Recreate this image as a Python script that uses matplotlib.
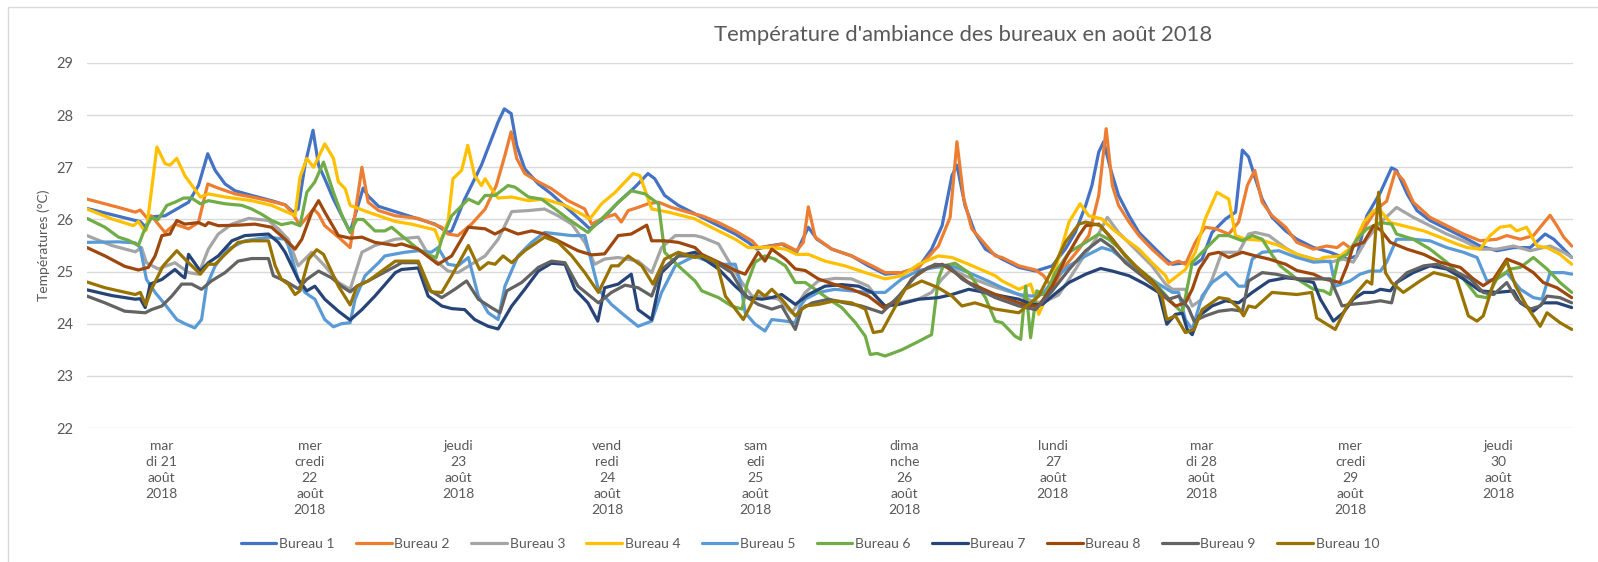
import matplotlib
matplotlib.use("Agg")
import matplotlib.pyplot as plt
from matplotlib.patches import Rectangle

plt.rcParams['font.family'] = ['Lato', 'DejaVu Sans']

# series names / colours (Excel office palette)
bureau_names = ['Bureau 1', 'Bureau 2', 'Bureau 3', 'Bureau 4', 'Bureau 5',
                'Bureau 6', 'Bureau 7', 'Bureau 8', 'Bureau 9', 'Bureau 10']
bureau_colors = ['#4472C4', '#ED7D31', '#A5A5A5', '#FFC000', '#5B9BD5',
                 '#70AD47', '#264478', '#9E480E', '#636363', '#997300']

# x axis = hours since 21/08 00:00, one label per day
day_centres = [12, 36, 60, 84, 108, 132, 156, 180, 204, 228]
day_labels = ['mar\ndi 21\naoût\n2018', 'mer\ncredi\n22\naoût\n2018',
              'jeudi\n23\naoût\n2018', 'vend\nredi\n24\naoût\n2018',
              'sam\nedi\n25\naoût\n2018', 'dima\nnche\n26\naoût\n2018',
              'lundi\n27\naoût\n2018', 'mar\ndi 28\naoût\n2018',
              'mer\ncredi\n29\naoût\n2018', 'jeudi\n30\naoût\n2018']

# (hour, °C)
b1 = [(0, 26.21), (7.8, 25.98), (8.6, 25.96), (9.4, 25.86), (10.4, 26.05), (12.6, 26.07), (14.5, 26.2),
      (16.4, 26.33), (18.0, 26.65), (19.5, 27.26), (20.7, 26.94), (22.3, 26.68), (23.9, 26.55), (26.6, 26.46),
      (29.8, 26.36), (32.0, 26.28), (33.3, 26.14), (34.1, 26.2), (35.2, 27.04), (36.5, 27.71), (37.4, 27.04),
      (38.4, 26.78), (39.8, 26.39), (41.4, 26.01), (42.5, 25.76), (43.6, 26.2), (44.6, 26.6), (45.4, 26.45),
      (47.1, 26.25), (53.5, 26.01), (56.2, 25.91), (58.3, 25.75), (58.9, 25.78), (61.0, 26.39), (63.7, 27.04),
      (66.4, 27.87), (67.4, 28.12), (68.5, 28.03), (69.4, 27.42), (70.7, 26.97), (72.9, 26.68), (75.0, 26.49),
      (77.7, 26.2), (80.4, 25.91), (81.2, 25.82), (83.1, 25.98), (85.8, 26.33), (88.5, 26.62), (90.6, 26.88),
      (91.7, 26.78), (93.3, 26.46), (95.5, 26.27), (99.3, 26.04), (102.0, 25.88), (104.7, 25.72), (106.8, 25.56),
      (108.2, 25.43), (110.1, 25.49), (112.2, 25.53), (114.6, 25.37), (116.5, 25.85), (117.9, 25.62),
      (120.3, 25.43), (123.5, 25.3), (126.2, 25.11), (128.9, 24.95), (131.6, 24.98), (134.3, 25.08),
      (136.4, 25.43), (138.1, 25.88), (139.7, 26.84), (140.5, 27.04), (141.8, 26.27), (143.4, 25.75),
      (145.1, 25.43), (147.8, 25.24), (150.5, 25.08), (153.2, 25.01), (155.9, 25.11), (158.0, 25.43),
      (159.6, 25.75), (161.3, 26.27), (162.3, 26.65), (163.4, 27.29), (164.2, 27.49), (165.3, 26.97),
      (166.6, 26.46), (168.3, 26.07), (169.9, 25.75), (172.0, 25.5), (174.2, 25.24), (175.3, 25.14),
      (177.4, 25.17), (179.0, 25.14), (180.1, 25.24), (181.7, 25.75), (183.9, 26.01), (185.5, 26.14),
      (186.6, 27.33), (187.6, 27.2), (188.7, 26.78), (189.8, 26.39), (191.4, 26.04), (193.6, 25.78),
      (195.4, 25.62), (198.1, 25.46), (200.8, 25.37), (203.5, 25.24), (205.1, 25.3), (206.7, 26.07),
      (208.9, 26.52), (210.7, 26.99), (211.5, 26.94), (213.2, 26.49), (214.8, 26.17), (216.9, 25.98),
      (219.6, 25.82), (222.3, 25.66), (225.0, 25.49), (227.7, 25.40), (230.4, 25.46), (233.1, 25.46),
      (235.5, 25.72), (236.9, 25.62), (238.5, 25.43), (239.8, 25.27)]

b2 = [(0, 26.39), (5.1, 26.23), (7.8, 26.14), (8.6, 26.18), (9.6, 26.04), (10.4, 26.07), (12.6, 25.75),
      (14.2, 25.91), (16.4, 25.82), (18.0, 25.94), (19.5, 26.68), (21.2, 26.6), (23.9, 26.49), (26.6, 26.43),
      (29.3, 26.36), (32.0, 26.28), (33.3, 26.1), (34.4, 25.88), (36.6, 26.2), (37.4, 26.1), (38.4, 25.88),
      (40.6, 25.66), (42.5, 25.46), (44.4, 27.0), (45.4, 26.33), (47.1, 26.17), (49.8, 26.07), (53.5, 26.02),
      (57.3, 25.85), (58.3, 25.72), (59.9, 25.69), (62.1, 25.91), (64.3, 26.2), (66.1, 26.65), (67.5, 27.23),
      (68.5, 27.68), (69.4, 27.17), (70.7, 26.88), (72.9, 26.72), (75.0, 26.59), (77.7, 26.36), (80.4, 26.2),
      (81.5, 25.91), (83.1, 26.01), (85.3, 26.1), (86.3, 25.95), (87.4, 26.17), (89.0, 26.23), (90.6, 26.3),
      (92.3, 26.33), (94.4, 26.23), (98.2, 26.1), (99.3, 26.07), (102.0, 25.94), (104.7, 25.78), (107.4, 25.59),
      (108.4, 25.46), (110.6, 25.49), (112.5, 25.53), (114.6, 25.4), (115.7, 25.56), (116.5, 26.24),
      (117.6, 25.66), (120.3, 25.43), (123.5, 25.3), (126.8, 25.11), (128.9, 24.98), (131.6, 24.98),
      (134.3, 25.08), (137.5, 25.49), (139.4, 26.04), (140.5, 27.49), (141.6, 26.4), (142.9, 25.82),
      (146.7, 25.3), (147.8, 25.27), (150.5, 25.11), (153.2, 25.03), (154.5, 24.92), (155.9, 24.69),
      (158.0, 25.11), (160.2, 25.43), (161.8, 25.69), (163.4, 26.46), (164.6, 27.74), (165.6, 26.65),
      (166.6, 26.27), (168.3, 25.95), (169.9, 25.69), (172.0, 25.43), (174.7, 25.14), (176.3, 25.2),
      (177.4, 25.14), (179.0, 25.56), (180.6, 25.85), (182.3, 25.82), (184.4, 25.72), (186.0, 25.95),
      (187.4, 26.65), (188.6, 26.94), (189.8, 26.33), (191.4, 26.07), (193.6, 25.85), (195.4, 25.56),
      (198.1, 25.43), (200.2, 25.49), (201.9, 25.46), (202.9, 25.55), (204.3, 25.43), (206.2, 25.82),
      (208.3, 26.2), (209.9, 26.35), (211.3, 26.92), (212.6, 26.75), (214.2, 26.33), (216.9, 26.04),
      (219.6, 25.88), (222.3, 25.72), (225.0, 25.59), (227.7, 25.62), (229.3, 25.69), (231.5, 25.62),
      (233.6, 25.69), (236.3, 26.08), (237.4, 25.88), (238.5, 25.66), (239.8, 25.49)]

b3 = [(0, 25.69), (4.0, 25.5), (7.8, 25.38), (8.8, 25.46), (9.6, 25.17), (11.5, 25.05), (14.2, 25.17),
      (16.4, 24.98), (18.0, 24.95), (19.6, 25.43), (21.2, 25.72), (23.4, 25.91), (26.1, 26.02), (29.3, 25.98),
      (30.9, 25.82), (32.5, 25.62), (34.1, 25.11), (36.3, 25.37), (38.4, 25.11), (40.6, 24.79), (42.5, 24.66),
      (44.4, 25.37), (46.5, 25.5), (49.8, 25.62), (53.5, 25.66), (55.1, 25.33), (56.7, 25.17), (58.3, 25.01),
      (59.9, 24.98), (62.1, 25.14), (64.3, 25.3), (66.4, 25.62), (68.6, 26.15), (71.3, 26.17), (73.9, 26.2),
      (76.1, 26.07), (78.3, 25.91), (80.4, 25.56), (82.0, 25.14), (83.6, 25.24), (85.8, 25.27), (89.0, 25.2),
      (91.2, 24.98), (92.8, 25.46), (95.0, 25.69), (98.2, 25.69), (99.3, 25.66), (102.0, 25.53), (104.1, 25.11),
      (105.8, 24.79), (107.4, 24.53), (109.5, 24.53), (111.7, 24.47), (113.8, 24.21), (114.6, 24.34),
      (116.0, 24.6), (118.1, 24.82), (120.8, 24.87), (123.5, 24.86), (126.2, 24.72), (127.8, 24.47),
      (128.9, 24.31), (131.1, 24.4), (134.3, 24.47), (136.4, 24.6), (138.1, 24.86), (139.7, 25.05),
      (141.8, 24.92), (146.7, 24.7), (150.5, 24.56), (153.2, 24.4), (154.8, 24.43), (156.9, 24.55),
      (158.6, 24.85), (160.7, 25.24), (162.9, 25.62), (164.8, 26.04), (166.6, 25.75), (169.3, 25.43),
      (172.0, 25.11), (174.2, 24.76), (175.3, 24.66), (177.4, 24.66), (178.5, 24.34), (180.1, 24.47),
      (181.7, 24.85), (183.3, 25.37), (186.0, 25.37), (187.6, 25.72), (188.7, 25.75), (190.9, 25.69),
      (193.6, 25.45), (195.4, 25.33), (198.1, 25.24), (200.8, 25.18), (202.9, 25.24), (204.5, 25.18),
      (206.7, 25.62), (208.9, 25.94), (211.5, 26.23), (214.2, 26.04), (216.9, 25.88), (219.6, 25.72),
      (222.3, 25.59), (225.0, 25.43), (227.7, 25.43), (230.4, 25.49), (233.1, 25.4), (236.3, 25.49),
      (238.5, 25.37), (239.8, 25.27)]

b4 = [(0, 26.2), (4.0, 26.01), (7.5, 25.88), (8.3, 25.96), (9.3, 25.78), (9.6, 25.8), (11.3, 27.39),
      (12.6, 27.07), (13.4, 27.04), (14.5, 27.17), (15.8, 26.84), (18.3, 26.43), (19.6, 26.49), (22.3, 26.43),
      (26.6, 26.36), (29.8, 26.27), (33.1, 26.1), (33.6, 26.07), (34.4, 26.81), (35.5, 27.17), (36.6, 27.0),
      (38.4, 27.45), (39.8, 27.17), (40.6, 26.72), (41.7, 26.59), (42.5, 26.27), (45.4, 26.14), (49.8, 25.96),
      (52.4, 25.91), (56.2, 25.8), (57.0, 25.56), (58.3, 25.95), (59.1, 26.78), (60.5, 26.94), (61.5, 27.42),
      (62.6, 26.84), (63.7, 26.65), (64.3, 26.78), (65.3, 26.59), (66.4, 26.41), (68.6, 26.43), (71.3, 26.36),
      (73.9, 26.39), (77.2, 26.27), (79.9, 26.1), (81.2, 26.01), (83.1, 26.3), (85.3, 26.52), (86.9, 26.72),
      (88.2, 26.88), (89.3, 26.84), (91.2, 26.2), (93.9, 26.14), (98.2, 26.01), (99.3, 25.94), (102.0, 25.78),
      (104.7, 25.62), (106.8, 25.46), (110.6, 25.46), (112.8, 25.43), (114.6, 25.33), (116.5, 25.33),
      (119.2, 25.2), (122.4, 25.11), (125.7, 24.98), (128.9, 24.86), (131.6, 24.92), (134.3, 25.14),
      (137.5, 25.3), (139.7, 25.27), (142.4, 25.14), (146.7, 24.92), (147.8, 24.82), (150.5, 24.66),
      (152.4, 24.76), (153.2, 24.47), (153.7, 24.18), (154.8, 24.47), (156.4, 25.04), (158.6, 25.95),
      (160.4, 26.3), (161.8, 26.07), (163.9, 26.01), (165.6, 25.82), (167.7, 25.62), (169.9, 25.43),
      (172.0, 25.17), (174.2, 24.92), (174.7, 24.79), (177.4, 25.04), (179.0, 25.37), (180.6, 26.01),
      (182.5, 26.52), (184.4, 26.39), (185.5, 25.69), (187.1, 25.62), (189.8, 25.6), (192.5, 25.5),
      (195.4, 25.33), (198.1, 25.24), (198.6, 25.2), (199.7, 25.27), (202.4, 25.3), (204.5, 25.49),
      (206.2, 25.94), (207.8, 26.17), (208.9, 26.17), (210.5, 25.94), (213.2, 25.86), (215.9, 25.78),
      (218.5, 25.66), (221.2, 25.53), (222.9, 25.46), (225.0, 25.43), (226.6, 25.69), (228.2, 25.85),
      (229.9, 25.88), (230.9, 25.78), (232.5, 25.85), (234.2, 25.49), (235.8, 25.46), (237.9, 25.33),
      (239.8, 25.14)]

b5 = [(0, 25.56), (5.1, 25.57), (7.8, 25.55), (8.6, 25.46), (9.6, 24.85), (11.0, 24.6), (12.6, 24.37),
      (14.5, 24.08), (15.8, 24.0), (17.4, 23.92), (18.5, 24.08), (19.3, 24.72), (20.7, 25.11), (22.8, 25.43),
      (25.5, 25.59), (29.3, 25.66), (32.0, 25.62), (32.5, 25.5), (34.1, 24.85), (35.2, 24.6), (36.8, 24.47),
      (38.4, 24.08), (39.8, 23.94), (41.1, 24.0), (42.5, 24.02), (43.3, 24.47), (44.9, 24.92), (47.1, 25.17),
      (48.1, 25.3), (51.3, 25.37), (53.5, 25.4), (55.6, 25.37), (56.7, 25.46), (58.3, 25.14), (59.9, 25.11),
      (61.6, 25.27), (63.2, 24.53), (64.8, 24.21), (66.4, 24.08), (67.5, 24.72), (69.6, 25.3), (71.8, 25.56),
      (73.9, 25.75), (76.1, 25.72), (78.3, 25.69), (80.4, 25.69), (82.6, 24.66), (84.7, 24.37), (86.9, 24.15),
      (89.0, 23.95), (91.2, 24.05), (92.8, 24.6), (95.0, 25.11), (98.2, 25.3), (99.3, 25.24), (102.0, 25.14),
      (104.7, 25.14), (105.5, 24.8), (106.3, 24.21), (107.9, 23.99), (109.5, 23.86), (110.6, 24.08),
      (112.8, 24.05), (114.4, 24.02), (115.2, 24.34), (116.0, 24.47), (118.1, 24.6), (120.8, 24.66),
      (123.5, 24.63), (126.2, 24.6), (128.9, 24.6), (131.6, 24.86), (134.3, 25.02), (137.0, 25.08),
      (139.7, 25.11), (142.4, 24.98), (145.5, 24.82), (147.8, 24.69), (150.5, 24.56), (152.6, 24.53),
      (154.3, 24.56), (155.9, 24.82), (158.6, 25.11), (161.3, 25.3), (163.9, 25.46), (165.6, 25.4),
      (167.7, 25.2), (170.4, 24.98), (173.1, 24.76), (175.3, 24.6), (176.3, 24.6), (177.4, 24.08),
      (178.5, 23.89), (180.1, 24.53), (181.7, 24.79), (183.9, 24.98), (186.0, 24.72), (187.1, 24.72),
      (188.2, 25.24), (189.8, 25.37), (192.5, 25.4), (195.4, 25.27), (198.1, 25.18), (200.8, 25.2),
      (201.6, 24.72), (202.4, 24.75), (204.0, 24.82), (205.6, 24.95), (207.2, 25.01), (208.9, 25.01),
      (209.9, 25.18), (211.5, 25.62), (214.2, 25.62), (216.9, 25.59), (219.6, 25.46), (222.3, 25.37),
      (224.5, 25.27), (226.1, 24.82), (227.7, 24.86), (229.3, 24.98), (231.5, 24.66), (233.6, 24.5),
      (235.0, 24.47), (236.3, 24.98), (238.5, 24.98), (239.8, 24.95)]

b6 = [(0, 26.02), (2.9, 25.85), (5.1, 25.66), (6.7, 25.6), (8.3, 25.5), (9.1, 25.75), (10.4, 26.03),
      (11.5, 26.0), (12.9, 26.27), (14.2, 26.33), (15.6, 26.41), (16.9, 26.41), (18.3, 26.3), (19.6, 26.36),
      (22.3, 26.3), (25.0, 26.27), (26.6, 26.2), (28.2, 26.1), (29.8, 25.98), (31.4, 25.9), (33.1, 25.94),
      (34.4, 25.88), (35.5, 26.52), (36.8, 26.72), (38.2, 27.1), (39.8, 26.52), (41.1, 26.1), (42.5, 25.75),
      (43.6, 26.0), (44.6, 26.0), (46.5, 25.78), (48.1, 25.78), (49.2, 25.85), (50.8, 25.69), (53.5, 25.43),
      (55.1, 25.32), (56.4, 25.27), (57.3, 25.62), (58.9, 26.07), (61.6, 26.39), (63.2, 26.3), (64.3, 26.46),
      (65.9, 26.46), (68.0, 26.65), (69.1, 26.62), (71.3, 26.43), (73.4, 26.39), (75.6, 26.2), (77.7, 26.01),
      (80.9, 25.75), (83.1, 26.01), (85.3, 26.27), (87.9, 26.55), (90.1, 26.49), (92.3, 26.3), (93.3, 25.37),
      (95.5, 25.11), (98.2, 24.82), (99.3, 24.63), (102.0, 24.5), (104.1, 24.34), (105.8, 24.28),
      (106.6, 24.76), (107.9, 25.18), (109.5, 25.3), (111.1, 25.24), (112.8, 25.11), (114.4, 24.79),
      (116.0, 24.79), (117.6, 24.66), (119.8, 24.47), (121.9, 24.31), (124.1, 24.02), (125.7, 23.76),
      (126.5, 23.41), (127.6, 23.43), (128.9, 23.38), (131.6, 23.5), (134.3, 23.66), (136.4, 23.79),
      (137.5, 24.86), (138.3, 25.11), (140.2, 25.16), (142.4, 24.98), (145.1, 24.5), (146.7, 24.05),
      (147.8, 24.02), (149.9, 23.76), (150.8, 23.7), (151.6, 24.72), (152.4, 23.73), (153.4, 24.63),
      (154.8, 24.55), (156.4, 24.98), (158.6, 25.37), (161.3, 25.56), (163.4, 25.72), (165.0, 25.62),
      (166.6, 25.46), (169.3, 25.11), (172.0, 24.85), (173.6, 24.63), (175.3, 24.4), (176.9, 24.21),
      (178.5, 25.17), (180.1, 25.37), (182.8, 25.69), (184.4, 25.69), (186.6, 25.59), (188.2, 25.69),
      (189.8, 25.62), (191.5, 25.3), (192.7, 25.11), (195.4, 24.86), (198.1, 24.66), (199.7, 24.63),
      (200.8, 24.56), (202.1, 25.24), (203.5, 25.33), (205.1, 25.62), (206.7, 25.82), (208.9, 25.94),
      (210.7, 25.91), (211.5, 25.72), (214.2, 25.62), (216.9, 25.43), (219.6, 25.18), (222.3, 24.86),
      (224.5, 24.53), (226.1, 24.5), (227.7, 24.86), (229.9, 25.05), (231.5, 25.08), (233.6, 25.27),
      (235.8, 25.05), (237.9, 24.79), (239.8, 24.6)]

b7 = [(0, 24.65), (4.0, 24.54), (7.8, 24.47), (8.6, 24.48), (9.4, 24.31), (10.2, 24.76), (12.1, 24.85),
      (14.2, 25.04), (15.3, 24.92), (15.8, 24.88), (16.4, 25.33), (18.3, 25.01), (19.6, 25.17), (21.2, 25.3),
      (23.4, 25.59), (25.5, 25.69), (29.3, 25.72), (30.9, 25.56), (32.0, 25.37), (34.1, 24.85), (35.5, 24.63),
      (36.8, 24.72), (38.4, 24.47), (40.6, 24.24), (42.5, 24.07), (44.4, 24.27), (46.5, 24.53), (49.8, 24.98),
      (50.8, 25.04), (53.5, 25.07), (55.1, 24.53), (57.3, 24.34), (58.9, 24.29), (61.0, 24.27), (62.6, 24.08),
      (64.8, 23.95), (66.4, 23.9), (68.6, 24.34), (70.7, 24.66), (72.9, 25.01), (75.0, 25.16), (77.2, 25.14),
      (78.8, 24.66), (80.9, 24.4), (82.5, 24.05), (83.6, 24.69), (85.8, 24.76), (87.9, 24.95), (89.0, 24.27),
      (91.2, 24.08), (92.8, 24.98), (95.5, 25.3), (98.2, 25.37), (99.3, 25.27), (102.0, 25.05), (104.7, 24.72),
      (106.8, 24.5), (109.0, 24.47), (110.6, 24.5), (112.2, 24.56), (114.4, 24.37), (116.5, 24.56),
      (119.2, 24.72), (121.9, 24.75), (124.6, 24.72), (126.8, 24.6), (128.9, 24.34), (131.1, 24.37),
      (134.3, 24.47), (137.5, 24.5), (139.7, 24.56), (142.4, 24.66), (145.1, 24.6), (147.8, 24.53),
      (150.5, 24.47), (152.6, 24.37), (154.3, 24.37), (155.9, 24.53), (158.6, 24.79), (161.3, 24.95),
      (163.7, 25.06), (165.6, 25.01), (168.3, 24.92), (170.9, 24.76), (173.1, 24.6), (174.4, 23.99),
      (175.8, 24.18), (176.9, 24.2), (177.7, 23.89), (178.5, 23.79), (179.6, 24.15), (181.7, 24.34),
      (183.9, 24.44), (186.0, 24.4), (188.2, 24.6), (190.9, 24.82), (193.6, 24.88), (195.4, 24.86),
      (198.1, 24.79), (199.2, 24.47), (201.3, 24.05), (202.9, 24.21), (204.5, 24.47), (206.2, 24.6),
      (207.8, 24.6), (208.9, 24.66), (210.5, 24.63), (211.5, 24.79), (214.2, 24.98), (216.9, 25.11),
      (219.6, 25.05), (222.3, 24.86), (225.0, 24.63), (227.7, 24.6), (230.4, 24.63), (231.5, 24.4),
      (233.6, 24.24), (235.2, 24.4), (237.4, 24.4), (239.8, 24.31)]

b8 = [(0, 25.46), (2.9, 25.3), (6.1, 25.1), (8.3, 25.03), (9.9, 25.08), (11.0, 25.3), (12.1, 25.69),
      (13.4, 25.72), (14.5, 25.98), (15.8, 25.91), (18.0, 25.94), (19.1, 25.88), (19.6, 25.94), (21.2, 25.88),
      (24.4, 25.89), (27.1, 25.91), (29.8, 25.85), (32.0, 25.62), (33.6, 25.43), (34.7, 25.62), (36.3, 26.14),
      (37.4, 26.36), (38.4, 26.14), (40.6, 25.69), (42.5, 25.64), (44.4, 25.66), (46.5, 25.56), (49.8, 25.5),
      (50.8, 25.53), (53.5, 25.43), (56.7, 25.14), (58.9, 25.3), (61.6, 25.85), (64.3, 25.82), (65.9, 25.72),
      (67.5, 25.82), (69.6, 25.72), (71.8, 25.78), (73.9, 25.72), (76.6, 25.56), (79.3, 25.4), (81.5, 25.32),
      (83.6, 25.34), (85.8, 25.69), (87.9, 25.72), (90.4, 25.89), (91.2, 25.59), (93.3, 25.59), (95.5, 25.56),
      (98.2, 25.46), (99.3, 25.33), (102.0, 25.18), (104.7, 25.02), (106.3, 24.95), (108.4, 25.37),
      (109.5, 25.2), (110.6, 25.43), (112.8, 25.24), (114.4, 25.05), (116.0, 25.02), (118.1, 24.86),
      (120.8, 24.75), (123.5, 24.66), (126.2, 24.53), (128.6, 24.31), (131.1, 24.47), (133.2, 24.86),
      (135.9, 25.08), (138.1, 25.14), (140.2, 24.98), (142.4, 24.79), (146.7, 24.56), (150.5, 24.4),
      (152.1, 24.34), (153.7, 24.34), (155.9, 24.72), (158.0, 25.24), (160.2, 25.69), (161.3, 25.88),
      (163.4, 25.91), (165.6, 25.62), (167.7, 25.3), (169.9, 25.04), (172.0, 24.82), (174.2, 24.5),
      (175.8, 24.34), (177.4, 24.4), (178.5, 24.66), (179.6, 25.04), (181.2, 25.33), (182.8, 25.37),
      (184.4, 25.27), (186.6, 25.37), (188.7, 25.3), (190.9, 25.24), (193.6, 25.14), (195.4, 25.02),
      (198.1, 24.95), (199.7, 24.86), (202.4, 24.79), (203.5, 25.11), (204.5, 25.49), (206.2, 25.56),
      (207.8, 25.88), (208.9, 25.8), (210.5, 25.56), (213.2, 25.43), (215.9, 25.33), (218.5, 25.18),
      (221.8, 25.08), (223.9, 24.86), (225.5, 24.73), (227.2, 24.86), (229.3, 25.24), (231.5, 25.14),
      (233.6, 24.98), (235.2, 24.79), (237.4, 24.69), (239.8, 24.5)]

b9 = [(0, 24.53), (2.9, 24.4), (6.1, 24.24), (9.4, 24.21), (10.4, 24.27), (12.1, 24.34), (13.7, 24.53),
      (15.3, 24.76), (16.9, 24.76), (18.5, 24.66), (20.1, 24.82), (22.3, 24.98), (24.4, 25.2), (26.6, 25.25),
      (29.3, 25.25), (30.1, 24.92), (32.0, 24.82), (34.1, 24.67), (35.5, 24.85), (37.4, 25.01), (39.5, 24.88),
      (41.1, 24.72), (42.5, 24.61), (43.6, 24.72), (45.4, 24.82), (49.8, 25.1), (50.8, 25.17), (53.5, 25.17),
      (55.1, 24.66), (57.3, 24.5), (59.4, 24.66), (61.3, 24.82), (63.2, 24.47), (65.3, 24.31), (66.7, 24.21),
      (67.8, 24.63), (70.2, 24.79), (72.9, 25.08), (75.0, 25.2), (77.2, 25.17), (79.3, 24.72), (82.6, 24.4),
      (84.7, 24.6), (86.9, 24.74), (89.0, 24.69), (91.2, 24.53), (92.8, 25.04), (95.5, 25.3), (98.2, 25.3),
      (99.3, 25.3), (102.0, 25.14), (104.1, 24.98), (106.3, 24.53), (108.4, 24.37), (110.6, 24.28),
      (112.2, 24.34), (114.4, 23.89), (115.4, 24.28), (117.1, 24.4), (119.8, 24.47), (122.4, 24.4),
      (125.1, 24.34), (128.4, 24.21), (131.1, 24.53), (134.3, 24.98), (137.0, 25.14), (139.1, 25.11),
      (141.3, 24.86), (144.0, 24.66), (146.7, 24.5), (150.5, 24.34), (153.2, 24.27), (155.9, 24.63),
      (158.6, 25.04), (161.3, 25.4), (163.7, 25.62), (165.6, 25.46), (167.7, 25.17), (170.4, 24.92),
      (173.1, 24.66), (174.7, 24.47), (176.3, 24.53), (177.9, 24.3), (178.8, 24.05), (180.6, 24.15),
      (182.8, 24.24), (184.9, 24.27), (186.6, 24.24), (187.6, 24.82), (189.8, 24.98), (192.0, 24.95),
      (195.4, 24.86), (198.1, 24.86), (200.8, 24.86), (202.7, 24.34), (204.0, 24.37), (206.7, 24.4),
      (208.9, 24.44), (210.7, 24.4), (211.5, 24.79), (213.2, 24.98), (215.9, 25.11), (218.0, 25.14),
      (220.7, 25.02), (223.4, 24.86), (225.5, 24.6), (227.2, 24.56), (229.3, 24.79), (230.9, 24.47),
      (233.1, 24.28), (234.7, 24.34), (235.8, 24.53), (237.9, 24.5), (239.8, 24.4)]

b10 = [(0, 24.8), (2.9, 24.69), (5.1, 24.63), (7.8, 24.56), (8.6, 24.6), (9.5, 24.36), (10.4, 24.66),
       (12.3, 25.11), (14.5, 25.4), (15.8, 25.24), (18.3, 24.95), (19.6, 25.14), (20.7, 25.14), (22.3, 25.33),
       (24.4, 25.56), (26.6, 25.59), (29.3, 25.59), (30.4, 25.11), (31.4, 24.85), (32.5, 24.76), (33.6, 24.56),
       (34.4, 24.63), (35.8, 25.24), (37.1, 25.42), (38.2, 25.33), (40.6, 24.72), (42.5, 24.36), (43.6, 24.72),
       (45.4, 24.82), (49.8, 25.2), (53.5, 25.2), (55.6, 24.61), (57.3, 24.6), (58.9, 24.92), (61.6, 25.5),
       (63.4, 25.04), (64.8, 25.17), (65.9, 25.14), (67.2, 25.3), (68.6, 25.17), (70.7, 25.4), (73.9, 25.66),
       (76.1, 25.56), (78.3, 25.3), (80.4, 24.98), (82.6, 24.6), (84.7, 25.11), (85.8, 25.11), (87.4, 25.3),
       (89.6, 25.11), (91.4, 24.76), (93.3, 25.24), (95.5, 25.37), (98.2, 25.27), (99.3, 25.3), (101.7, 25.18),
       (103.1, 24.53), (104.7, 24.28), (106.0, 24.08), (107.4, 24.4), (108.4, 24.63), (109.5, 24.53),
       (110.6, 24.66), (112.2, 24.47), (114.4, 24.15), (116.0, 24.34), (118.1, 24.37), (120.8, 24.44),
       (123.5, 24.4), (125.7, 24.28), (127.0, 23.83), (128.4, 23.86), (130.0, 24.21), (132.1, 24.66),
       (134.8, 24.82), (137.5, 24.69), (139.7, 24.53), (141.3, 24.34), (143.4, 24.4), (146.7, 24.28),
       (150.5, 24.21), (152.1, 24.37), (153.7, 24.53), (155.9, 25.04), (158.0, 25.56), (160.2, 25.91),
       (161.3, 25.95), (163.7, 25.88), (165.6, 25.62), (167.7, 25.3), (169.9, 25.04), (172.0, 24.79),
       (173.6, 24.53), (174.4, 24.08), (175.8, 24.15), (177.4, 23.83), (178.8, 23.89), (180.1, 24.27),
       (182.8, 24.5), (184.4, 24.47), (186.0, 24.3), (186.8, 24.15), (187.6, 24.34), (188.7, 24.31),
       (191.4, 24.6), (195.4, 24.56), (197.8, 24.6), (198.6, 24.11), (201.6, 23.89), (203.5, 24.34),
       (205.1, 24.6), (206.7, 24.82), (207.5, 24.76), (208.6, 26.52), (209.7, 24.98), (210.7, 24.79),
       (212.6, 24.6), (215.3, 24.82), (217.5, 24.98), (219.6, 24.92), (221.2, 24.86), (223.1, 24.15),
       (224.5, 24.05), (225.5, 24.15), (227.2, 24.79), (229.3, 25.2), (230.7, 24.73), (232.5, 24.34),
       (234.7, 23.95), (235.8, 24.21), (237.9, 24.02), (239.8, 23.89)]

series = [b1, b2, b3, b4, b5, b6, b7, b8, b9, b10]

W, H = 1598, 562
fig = plt.figure(figsize=(W / 100, H / 100), dpi=100)
ax = fig.add_axes([87 / W, 1 - 428 / H, (1573 - 87) / W, (428 - 63) / H])

for name, col, pts in zip(bureau_names, bureau_colors, series):
    hrs = [p[0] for p in pts]
    temps = [p[1] for p in pts]
    ax.plot(hrs, temps, color=col, lw=2.3, label=name,
            solid_joinstyle='round', solid_capstyle='round')

ax.set_xlim(0, 240)
ax.set_ylim(22, 29)
ax.set_yticks(range(22, 30))
ax.set_xticks(day_centres)
ax.set_xticklabels(day_labels, fontsize=10, color='#595959', linespacing=1.4)
ax.tick_params(length=0)
ax.tick_params(axis='x', pad=9)
ax.tick_params(axis='y', pad=10, labelsize=10.5, labelcolor='#595959')
ax.grid(axis='y', color='#D9D9D9', lw=1)
ax.set_axisbelow(True)
for s in ax.spines.values():
    s.set_visible(False)

ax.set_ylabel('Températures (°C)', fontsize=10, color='#595959')
ax.yaxis.set_label_coords((50 - 87) / (1573 - 87), 0.5)

fig.text(963 / W, 1 - 35 / H, "Température d'ambiance des bureaux en août 2018",
         ha='center', va='center', fontsize=15.8, color='#595959')

fig.legend(loc='center', bbox_to_anchor=(810 / W, 1 - 544 / H), ncol=10, frameon=False,
           fontsize=10, handlelength=2.55, handletextpad=0.2, columnspacing=1.55,
           labelcolor='#595959')

# chart border (only left/top visible in the crop)
fig.patches.append(Rectangle((8 / W, -0.05), 1.1, 1.05 - 7 / H, transform=fig.transFigure,
                             fill=False, edgecolor='#D9D9D9', lw=1))

fig.savefig('out.png', dpi=100)
